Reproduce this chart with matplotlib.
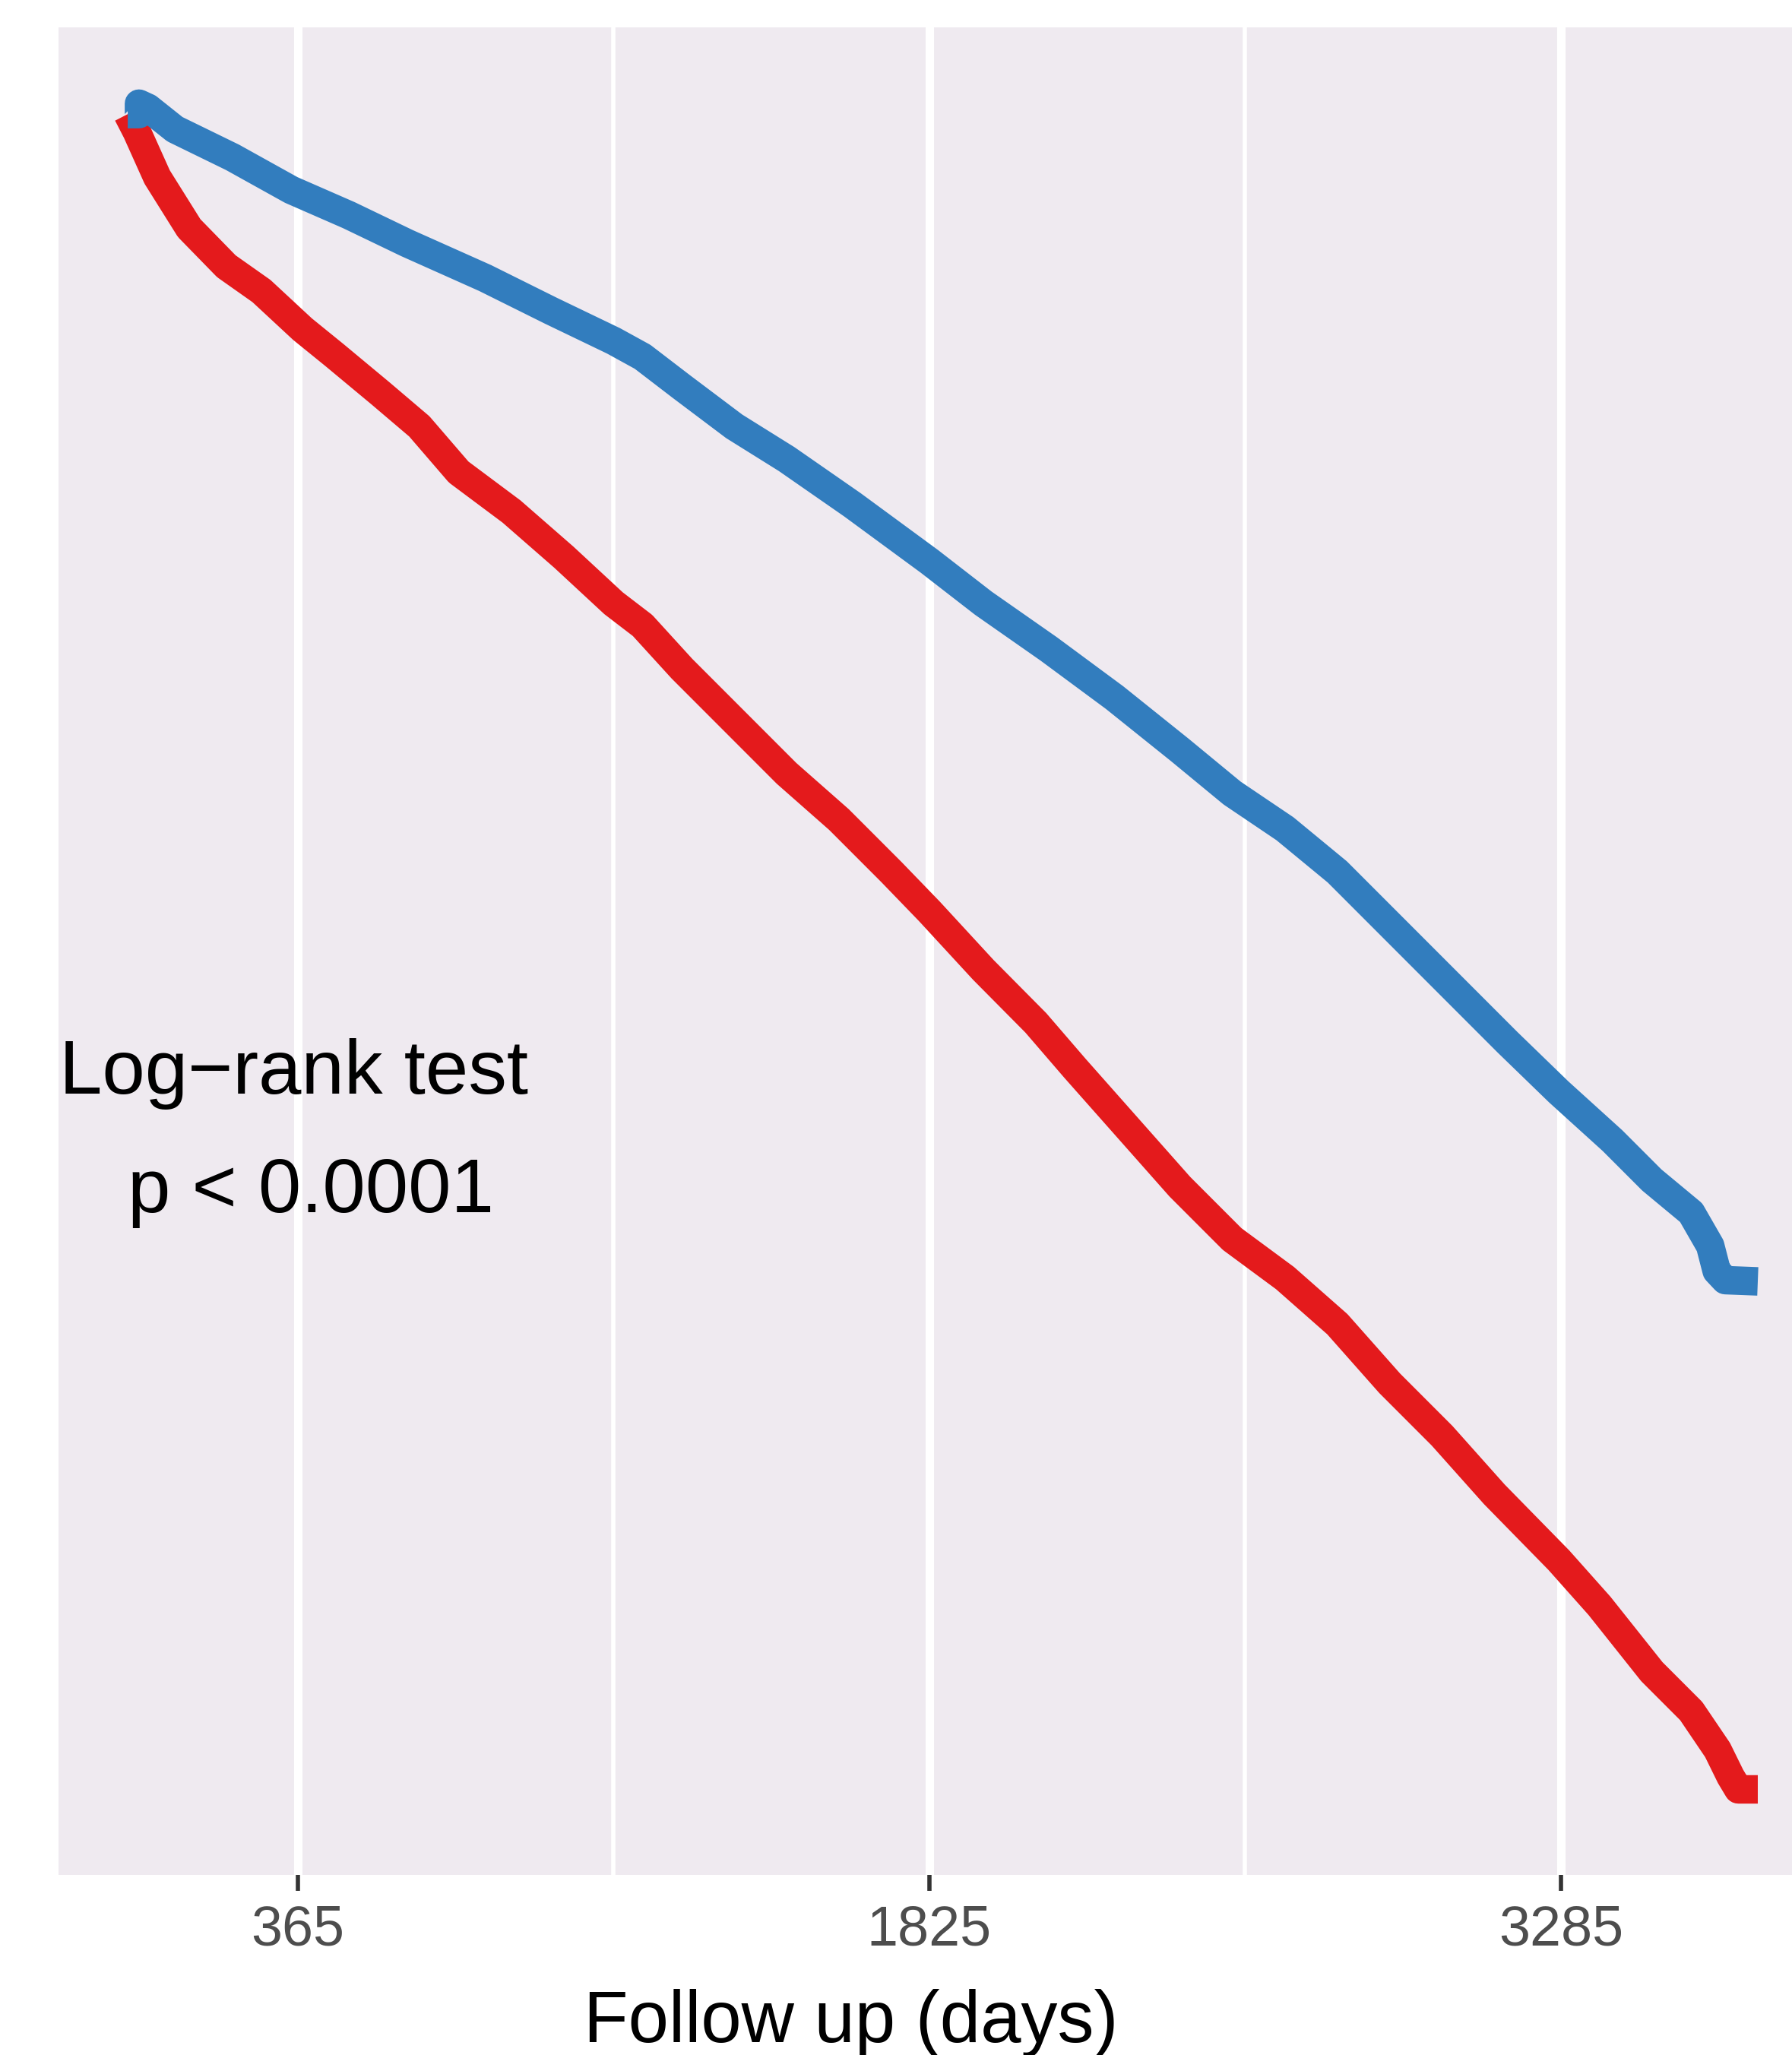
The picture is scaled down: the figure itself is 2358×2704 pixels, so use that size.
import matplotlib.pyplot as plt
import numpy as np

# survival curves (days, survival)
blue_days = [-28, -2, -2, 19, 81, 214, 350, 483, 618, 798, 950, 1095, 1162, 1253,
             1374, 1495, 1647, 1825, 1950, 2101, 2253, 2404, 2525, 2647, 2768, 2889,
             3010, 3162, 3280, 3404, 3495, 3586, 3630, 3645, 3665, 3740]
blue_surv = [1.0, 1.0, 1.0025, 1.0015, 0.9964, 0.9897, 0.9819, 0.9759, 0.9692, 0.9609,
             0.9531, 0.9459, 0.9421, 0.9349, 0.9255, 0.9177, 0.9068, 0.8933, 0.8833,
             0.8724, 0.8608, 0.8483, 0.8380, 0.8295, 0.8192, 0.8067, 0.7942, 0.7785,
             0.7667, 0.7551, 0.7457, 0.7379, 0.7300, 0.7240, 0.7218, 0.7215]

red_days = [-28, -7, 40, 114, 200, 281, 376, 450, 556, 646, 737, 859, 980, 1095, 1162,
            1253, 1374, 1495, 1616, 1737, 1825, 1950, 2071, 2162, 2283, 2404, 2525,
            2647, 2768, 2889, 3010, 3131, 3280, 3374, 3495, 3586, 3647, 3677, 3695, 3740]
red_surv = [1.0, 0.9958, 0.9850, 0.9728, 0.9637, 0.9578, 0.9487, 0.9425, 0.9334, 0.9255,
            0.9146, 0.9052, 0.8943, 0.8833, 0.8780, 0.8677, 0.8552, 0.8427, 0.8317,
            0.8192, 0.8098, 0.7958, 0.7832, 0.7723, 0.7582, 0.7441, 0.7316, 0.7223,
            0.7113, 0.6972, 0.6847, 0.6707, 0.6550, 0.6441, 0.6284, 0.6190, 0.6097,
            0.6034, 0.6003, 0.6003]

major_ticks = [365, 1825, 3285]
minor_ticks = [1095, 2555]
tick_labels = ['365', '1825', '3285']

plt.rcParams['font.family'] = ['Liberation Sans', 'DejaVu Sans']

fig = plt.figure(figsize=(23.58, 27.04), dpi=100)
# panel runs past the right edge of the picture, like the original crop
ax = fig.add_axes([77 / 2358, 1 - 2467 / 2704, (2420 - 77) / 2358, (2467 - 36) / 2704])
ax.set_facecolor('#EFEAF0')
for s in ax.spines.values():
    s.set_visible(False)

ax.set_xlim(-188, 3928)
ax.set_ylim(0.5799, 1.0207)

ax.set_xticks(major_ticks)
ax.set_xticklabels(tick_labels)
ax.set_xticks(minor_ticks, minor=True)
ax.set_yticks([])
ax.grid(axis='x', which='major', color='white', linewidth=8)
ax.grid(axis='x', which='minor', color='white', linewidth=4)
ax.set_axisbelow(True)
ax.tick_params(axis='x', which='major', length=15, width=4, color='#333333',
               labelsize=53, labelcolor='#4D4D4D', pad=13)
ax.tick_params(axis='x', which='minor', length=0)

ax.plot(red_days, red_surv, color='#E41A1C', linewidth=27,
        solid_capstyle='butt', solid_joinstyle='round')
ax.plot(blue_days, blue_surv, color='#327DBE', linewidth=27,
        solid_capstyle='butt', solid_joinstyle='round')

ax.text(355, 0.7663, 'Log\u2212rank test', fontsize=73, ha='center', va='baseline')
ax.text(395, 0.7380, 'p < 0.0001', fontsize=73, ha='center', va='baseline')

fig.text(1120 / 2358, 1 - 2687 / 2704, 'Follow up (days)', fontsize=69,
         ha='center', va='baseline')

fig.savefig('out.png', dpi=100)
